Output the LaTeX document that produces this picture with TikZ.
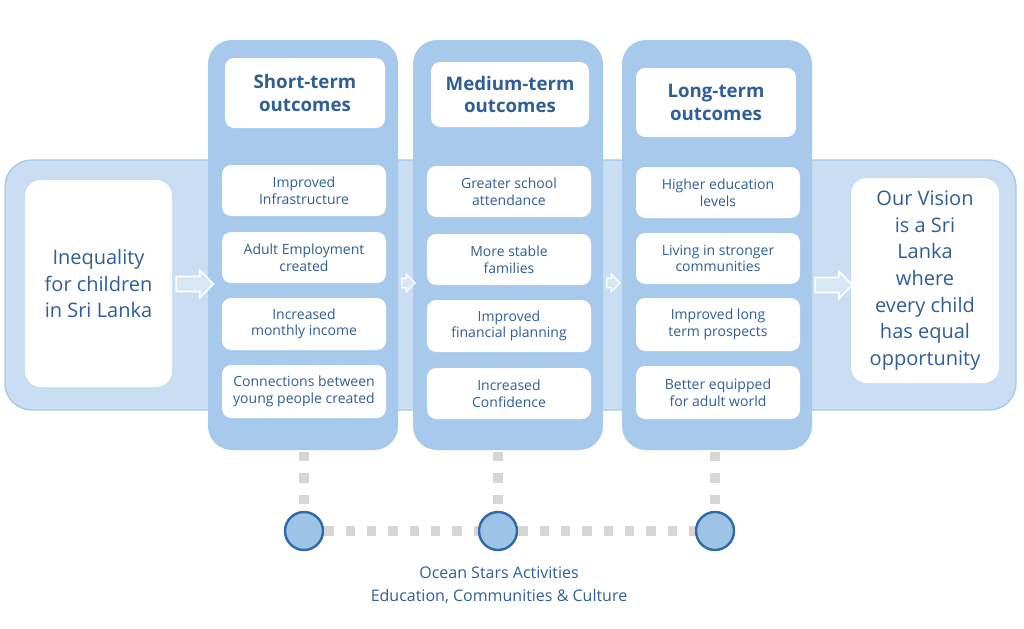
\documentclass[tikz,border=0pt]{standalone}
\usepackage{fontspec}
\setmainfont{Open Sans}
\usetikzlibrary{shapes.arrows}
\definecolor{band}{HTML}{C9DEF2}
\definecolor{bandb}{HTML}{A4C8EA}
\definecolor{col}{HTML}{A7CAEC}
\definecolor{txt}{HTML}{2F5F95}
\definecolor{dotc}{HTML}{D6D6D6}
\definecolor{circ}{HTML}{9DC3E6}
\definecolor{circb}{HTML}{2E6AA6}
\definecolor{arrf}{HTML}{D8E7F6}
\begin{document}
\begin{tikzpicture}[x=0.75pt,y=-0.75pt,
  colbox/.style={fill=col,draw=none,rounded corners=18pt},
  wbox/.style={fill=white,draw=none,rounded corners=7pt},
  itemtxt/.style={text=txt,font=\fontsize{10.5}{12.5}\selectfont,align=center},
  headtxt/.style={text=txt,font=\bfseries\fontsize{14}{17}\selectfont,align=center},
  bigtxt/.style={text=txt,font=\fontsize{15}{20}\selectfont,align=center},
  blk/.style={single arrow,fill=arrf,draw=white,line width=1.2pt,minimum height=28pt,inner xsep=0pt,inner ysep=5pt,single arrow head extend=4.5pt},
  sblk/.style={single arrow,fill=arrf,draw=white,line width=1pt,minimum height=10pt,inner xsep=0pt,inner ysep=3pt,single arrow head extend=3pt},
  dotl/.style={dotc,line width=7pt,dash pattern=on 7pt off 9pt},
  dot/.style={circle,fill=circ,draw=circb,line width=1.8pt,minimum size=38pt*0.75,inner sep=0pt}]
\useasboundingbox (0,0) rectangle (1024,628);
\fill[band,draw=bandb,line width=1pt,rounded corners=20pt] (5,160) rectangle (1016,410);
\node[wbox,minimum width=147*0.75pt,minimum height=207*0.75pt,rounded corners=12pt,bigtxt] (ineq) at (98.5,283.5) {Inequality\\for children\\in Sri Lanka};
\node[wbox,minimum width=148*0.75pt,minimum height=205*0.75pt,rounded corners=12pt,bigtxt] (vis) at (925,280.5) {Our Vision\\is a Sri\\Lanka\\where\\every child\\has equal\\opportunity};
\fill[colbox] (208,40) rectangle (398,450);
\fill[colbox] (413,40) rectangle (603,450);
\fill[colbox] (622,40) rectangle (812,450);
\node[blk] (a1) at (191,284) {};
\node[sblk] (a2) at (406,283) {};
\node[sblk] (a3) at (611,283) {};
\node[blk] (a4) at (830,285) {};
\node[wbox,minimum width=160*0.75pt,minimum height=70*0.75pt,headtxt] (h1) at (305,93) {Short-term\\outcomes};
\node[wbox,minimum width=158*0.75pt,minimum height=65*0.75pt,headtxt] (h2) at (510,94.5) {Medium-term\\outcomes};
\node[wbox,minimum width=160*0.75pt,minimum height=69*0.75pt,headtxt] (h3) at (716,102.5) {Long-term\\outcomes};
\foreach \n/\x/\y/\h/\t in {
 s1/304/190.5/51/{Improved\\Infrastructure},
 s2/304/257.5/51/{Adult Employment\\created},
 s3/304/324/52/{Increased\\monthly income},
 s4/304/391.5/53/{Connections between\\young people created},
 m1/509/191.5/51/{Greater school\\attendance},
 m2/509/259.5/51/{More stable\\families},
 m3/509/326/52/{Improved\\financial planning},
 m4/509/393.5/51/{Increased\\Confidence},
 l1/718/192.5/51/{Higher education\\levels},
 l2/718/258.5/51/{Living in stronger\\communities},
 l3/718/324.5/53/{Improved long\\term prospects},
 l4/718/392.5/53/{Better equipped\\for adult world}}
 \node[wbox,minimum width=164*0.75pt,minimum height=\h*0.75pt,itemtxt] (\n) at (\x,\y) {\t};
\coordinate (t1) at (304,452);
\coordinate (t2) at (498,452);
\coordinate (t3) at (715,452);
\node[dot] (c1) at (304,531) {};
\node[dot] (c2) at (498,531) {};
\node[dot] (c3) at (715,531) {};
\draw[dotl] (t1) -- (c1.north);
\draw[dotl] (t2) -- (c2.north);
\draw[dotl] (t3) -- (c3.north);
\draw[dotl] (c1.east) -- (c2.west);
\draw[dotl] (c2.east) -- (c3.west);
\node[text=txt,font=\fontsize{12}{17}\selectfont,align=center] (lab) at (499,585) {Ocean Stars Activities\\Education, Communities \& Culture};
\end{tikzpicture}
\end{document}
